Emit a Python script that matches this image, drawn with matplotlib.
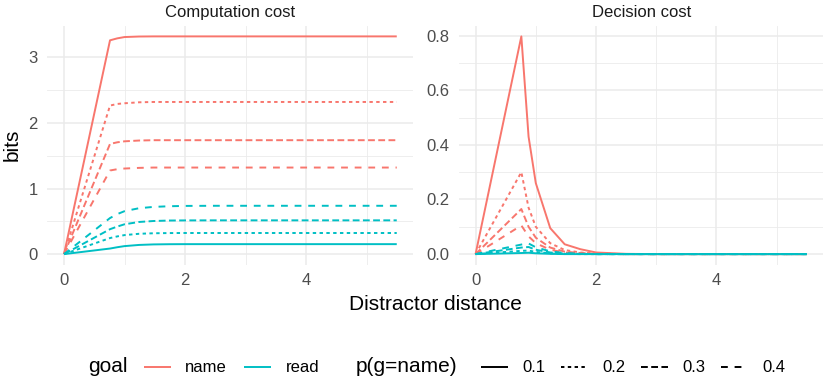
import matplotlib
matplotlib.use("Agg")
import matplotlib.pyplot as plt
from matplotlib.lines import Line2D
import numpy as np

plt.rcParams['font.family'] = ['Liberation Sans', 'DejaVu Sans']

# ---------------- data ----------------
distance = [0, 0.76, 0.88, 1.0, 1.24, 1.48, 1.74, 2.0, 2.5, 3.0, 3.5, 4.0, 4.5, 5.0, 5.5]
p_levels = ["0.1", "0.2", "0.3", "0.4"]
goals = ["name", "read"]

comp_name = {
    "0.1": [0, 3.26, 3.29, 3.31, 3.318, 3.32, 3.32, 3.32, 3.32, 3.32, 3.32, 3.32, 3.32, 3.32, 3.32],
    "0.2": [0, 2.265, 2.29, 2.30, 2.315, 2.32, 2.32, 2.32, 2.32, 2.32, 2.32, 2.32, 2.32, 2.32, 2.32],
    "0.3": [0, 1.68, 1.705, 1.72, 1.732, 1.737, 1.737, 1.737, 1.737, 1.737, 1.737, 1.737, 1.737, 1.737, 1.737],
    "0.4": [0, 1.275, 1.295, 1.305, 1.315, 1.32, 1.32, 1.32, 1.32, 1.32, 1.32, 1.32, 1.32, 1.32, 1.32],
}
comp_read = {
    "0.1": [0, 0.085, 0.105, 0.122, 0.14, 0.148, 0.151, 0.152, 0.152, 0.152, 0.152, 0.152, 0.152, 0.152, 0.152],
    "0.2": [0, 0.245, 0.27, 0.29, 0.31, 0.318, 0.321, 0.322, 0.322, 0.322, 0.322, 0.322, 0.322, 0.322, 0.322],
    "0.3": [0, 0.38, 0.42, 0.455, 0.49, 0.505, 0.512, 0.514, 0.515, 0.515, 0.515, 0.515, 0.515, 0.515, 0.515],
    "0.4": [0, 0.55, 0.61, 0.655, 0.70, 0.72, 0.73, 0.735, 0.737, 0.737, 0.737, 0.737, 0.737, 0.737, 0.737],
}
dec_name = {
    "0.1": [0, 0.797, 0.43, 0.26, 0.095, 0.036, 0.018, 0.006, 0.001, 0, 0, 0, 0, 0, 0],
    "0.2": [0, 0.30, 0.17, 0.10, 0.04, 0.015, 0.006, 0.002, 0, 0, 0, 0, 0, 0, 0],
    "0.3": [0, 0.165, 0.10, 0.06, 0.024, 0.009, 0.004, 0.001, 0, 0, 0, 0, 0, 0, 0],
    "0.4": [0, 0.105, 0.065, 0.04, 0.016, 0.006, 0.002, 0.001, 0, 0, 0, 0, 0, 0, 0],
}
dec_read = {
    "0.1": [0, 0.004, 0.005, 0.003, 0.001, 0, 0, 0, 0, 0, 0, 0, 0, 0, 0],
    "0.2": [0, 0.012, 0.013, 0.008, 0.003, 0.001, 0, 0, 0, 0, 0, 0, 0, 0, 0],
    "0.3": [0, 0.024, 0.026, 0.016, 0.006, 0.002, 0.001, 0, 0, 0, 0, 0, 0, 0, 0],
    "0.4": [0, 0.035, 0.039, 0.025, 0.01, 0.004, 0.001, 0, 0, 0, 0, 0, 0, 0, 0],
}

panel_titles = ["Computation cost", "Decision cost"]
x_ticks = [0, 2, 4]
x_minor = [1, 3, 5]
y_ticks_comp = [0, 1, 2, 3]
y_minor_comp = [0.5, 1.5, 2.5]
y_ticks_dec = [0.0, 0.2, 0.4, 0.6, 0.8]
y_minor_dec = [0.1, 0.3, 0.5, 0.7]

# ---------------- style ----------------
colors = {"name": "#F8766D", "read": "#00BFC4"}
LW = 1.4
dash_styles = {
    "0.1": "solid",
    "0.2": (0, (1.75, 1.75)),
    "0.3": (0, (3.5, 1.75)),
    "0.4": (0, (3.5, 3.5)),
}
grid_col = "#EBEBEB"

W, H = 829, 381
fig = plt.figure(figsize=(W / 100, H / 100), dpi=100)

def frac_box(x0, x1, y0, y1):
    return [x0 / W, 1 - y1 / H, (x1 - x0) / W, (y1 - y0) / H]

ax1 = fig.add_axes(frac_box(47.4, 413.4, 25.5, 265))
ax2 = fig.add_axes(frac_box(459, 823.4, 25.5, 265))

panels = [
    (ax1, comp_name, comp_read, y_ticks_comp, y_minor_comp, ["0", "1", "2", "3"]),
    (ax2, dec_name, dec_read, y_ticks_dec, y_minor_dec, ["0.0", "0.2", "0.4", "0.6", "0.8"]),
]

for i, (ax, dn, dr, yt, ym, ylab) in enumerate(panels):
    for goal, d in (("name", dn), ("read", dr)):
        for p in p_levels:
            ax.plot(distance, d[p], color=colors[goal], lw=LW, linestyle=dash_styles[p],
                    solid_capstyle="butt", dash_capstyle="butt", zorder=3)
    allv = [v for d in (dn, dr) for p in p_levels for v in d[p]]
    lo, hi = min(allv), max(allv)
    pad = (hi - lo) * 0.05
    ax.set_ylim(lo - pad, hi + pad)
    xr = max(distance) - min(distance)
    ax.set_xlim(min(distance) - 0.05 * xr, max(distance) + 0.05 * xr)
    ax.set_xticks(x_ticks)
    ax.set_xticklabels([str(t) for t in x_ticks])
    ax.set_xticks(x_minor, minor=True)
    ax.set_yticks(yt)
    ax.set_yticklabels(ylab)
    ax.set_yticks(ym, minor=True)
    ax.grid(True, which="major", color=grid_col, lw=1.1, zorder=0)
    ax.grid(True, which="minor", color=grid_col, lw=0.6, zorder=0)
    ax.set_axisbelow(True)
    for s in ax.spines.values():
        s.set_visible(False)
    ax.tick_params(which="both", length=0, labelsize=12, labelcolor="#4D4D4D")
    ax.tick_params(axis="y", pad=7)
    ax.tick_params(axis="x", pad=6)
    ax.set_title(panel_titles[i], fontsize=12, color="#1A1A1A", pad=6)

fig.text(12 / W, 1 - 145 / H, "bits", rotation=90, fontsize=15, ha="center", va="center")
fig.text(435 / W, 1 - 305 / H, "Distractor distance", fontsize=15, ha="center", va="center")

# ---------------- legend ----------------
ly = 1 - 367 / H
def key(x0, x1, color, ls):
    fig.add_artist(Line2D([x0 / W, x1 / W], [ly, ly], color=color, lw=LW, linestyle=ls,
                          transform=fig.transFigure, solid_capstyle="butt", dash_capstyle="butt"))

fig.text(88 / W, ly, "goal", fontsize=15, ha="left", va="center")
key(144, 171, colors["name"], "solid")
fig.text(185 / W, ly, "name", fontsize=12, ha="left", va="center")
key(244, 271, colors["read"], "solid")
fig.text(286 / W, ly, "read", fontsize=12, ha="left", va="center")
fig.text(356 / W, ly, "p(g=name)", fontsize=15, ha="left", va="center")
key_x = [481, 561, 641, 721]
for p, kx in zip(p_levels, key_x):
    key(kx, kx + 27, "black", dash_styles[p])
    fig.text((kx + 41) / W, ly, p, fontsize=12, ha="left", va="center")

fig.savefig("out.png", dpi=100, facecolor="white")
